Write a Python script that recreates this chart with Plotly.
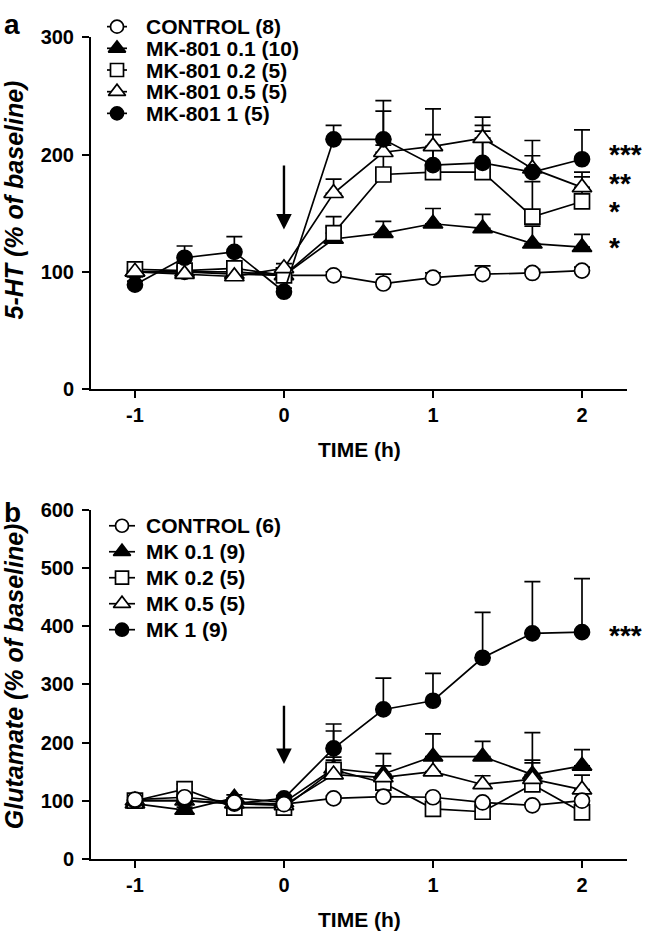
import plotly.graph_objects as go

# ---------------- data ----------------
time_h = [-1.0, -0.667, -0.333, 0.0, 0.333, 0.667, 1.0, 1.333, 1.667, 2.0]

# Panel a: 5-HT (% of baseline), mean and upper SEM
a_control = [100, 100, 100, 97, 97, 90, 95, 98, 99, 101]
a_control_err = [3, 3, 3, 3, 3, 8, 4, 7, 3, 3]
a_mk01 = [100, 100, 98, 97, 128, 133, 141, 137, 124, 121]
a_mk01_err = [4, 4, 4, 4, 10, 10, 13, 12, 15, 11]
a_mk02 = [102, 101, 103, 97, 133, 183, 185, 185, 147, 160]
a_mk02_err = [4, 4, 5, 4, 14, 25, 20, 35, 30, 21]
a_mk05 = [100, 98, 96, 103, 167, 202, 207, 214, 188, 172]
a_mk05_err = [3, 3, 4, 4, 12, 35, 32, 18, 11, 13]
a_mk1 = [89, 112, 117, 83, 213, 213, 191, 193, 185, 196]
a_mk1_err = [3, 10, 13, 3, 12, 33, 26, 32, 27, 25]

# Panel b: Glutamate (% of baseline)
b_control = [102, 106, 97, 94, 104, 107, 106, 97, 92, 100]
b_control_err = [4, 4, 4, 4, 4, 4, 4, 4, 4, 4]
b_mk01 = [95, 84, 105, 97, 155, 146, 176, 176, 145, 160]
b_mk01_err = [5, 5, 5, 5, 15, 35, 39, 26, 25, 28]
b_mk02 = [100, 120, 88, 88, 153, 131, 86, 81, 128, 80]
b_mk02_err = [5, 8, 5, 5, 67, 10, 10, 10, 37, 10]
b_mk05 = [100, 100, 95, 92, 145, 140, 150, 128, 137, 119]
b_mk05_err = [5, 5, 5, 5, 30, 20, 20, 15, 80, 25]
b_mk1 = [100, 100, 95, 104, 190, 257, 272, 346, 388, 390]
b_mk1_err = [5, 5, 5, 5, 42, 54, 47, 78, 89, 92]

a_labels = ["CONTROL (8)", "MK-801 0.1 (10)", "MK-801 0.2 (5)", "MK-801 0.5 (5)", "MK-801 1 (5)"]
b_labels = ["CONTROL (6)", "MK 0.1 (9)", "MK 0.2 (5)", "MK 0.5 (5)", "MK 1 (9)"]

a_stars = ["***", "**", "*", "*"]
b_stars = ["***"]

x_ticks = [-1, 0, 1, 2]
a_yticks = [0, 100, 200, 300]
b_yticks = [0, 100, 200, 300, 400, 500, 600]

# ---------------- page geometry ----------------
W, H = 650, 947
FONT = "Liberation Sans, Arial, sans-serif"

def fx(px):
    return px / W

def fy(py):
    return (H - py) / H

styles = [
    dict(symbol="circle", fill="white", size=15),        # CONTROL
    dict(symbol="triangle-up", fill="black", size=17),   # 0.1
    dict(symbol="square", fill="white", size=15),        # 0.2
    dict(symbol="triangle-up", fill="white", size=17),   # 0.5
    dict(symbol="circle", fill="black", size=15),        # 1
]

fig = go.Figure()

def add_panel(series, errs, order, xa, ya):
    for i in order:
        fig.add_trace(go.Scatter(
            x=time_h, y=series[i], mode="markers",
            marker=dict(size=1, color="rgba(0,0,0,0)"),
            error_y=dict(type="data", symmetric=False, array=errs[i],
                         arrayminus=[0] * len(errs[i]), color="black",
                         thickness=1.7, width=8),
            xaxis=xa, yaxis=ya, showlegend=False, hoverinfo="skip"))
    for i in order:
        s = styles[i]
        fig.add_trace(go.Scatter(
            x=time_h, y=series[i], mode="lines+markers",
            line=dict(color="black", width=1.7),
            marker=dict(symbol=s["symbol"], size=s["size"], color=s["fill"],
                        line=dict(color="black", width=1.7)),
            xaxis=xa, yaxis=ya, showlegend=False, cliponaxis=False))

add_panel([a_control, a_mk01, a_mk02, a_mk05, a_mk1],
          [a_control_err, a_mk01_err, a_mk02_err, a_mk05_err, a_mk1_err],
          [0, 1, 2, 3, 4], "x", "y")
add_panel([b_control, b_mk01, b_mk02, b_mk05, b_mk1],
          [b_control_err, b_mk01_err, b_mk02_err, b_mk05_err, b_mk1_err],
          [1, 2, 3, 4, 0], "x2", "y2")

# ---------------- legends on a page-pixel overlay ----------------
def add_legend(labels, x_sym, half_len, y0, dy, x_text, font_size):
    anns = []
    for i, lab in enumerate(labels):
        s = styles[i]
        yy = y0 + i * dy
        fig.add_trace(go.Scatter(
            x=[x_sym - half_len, x_sym + half_len], y=[yy, yy], mode="lines",
            line=dict(color="black", width=1.7), xaxis="x3", yaxis="y3",
            showlegend=False, hoverinfo="skip", cliponaxis=False))
        fig.add_trace(go.Scatter(
            x=[x_sym], y=[yy], mode="markers",
            marker=dict(symbol=s["symbol"], size=s["size"] - 2, color=s["fill"],
                        line=dict(color="black", width=1.7)),
            xaxis="x3", yaxis="y3", showlegend=False, hoverinfo="skip",
            cliponaxis=False))
        anns.append(dict(x=x_text, y=yy, xref="x3", yref="y3", text="<b>%s</b>" % lab,
                         showarrow=False, xanchor="left", yanchor="middle",
                         font=dict(family=FONT, size=font_size, color="black")))
    return anns

annotations = []
annotations += add_legend(a_labels, 117, 10, 16, 22.2, 144, 21)
annotations += add_legend(b_labels, 122, 13, 527, 26.6, 144, 21)

STAR_SIZE = 28
for lab, yy in zip(a_stars, [144, 174, 202, 239]):
    annotations.append(dict(x=607, y=yy + 3, xref="x3", yref="y3", text="<b>%s</b>" % lab,
                            showarrow=False, xanchor="left", yanchor="middle",
                            font=dict(family=FONT, size=STAR_SIZE, color="black")))
for lab, yy in zip(b_stars, [636]):
    annotations.append(dict(x=607, y=yy + 3, xref="x3", yref="y3", text="<b>%s</b>" % lab,
                            showarrow=False, xanchor="left", yanchor="middle",
                            font=dict(family=FONT, size=STAR_SIZE, color="black")))

# panel letters
annotations.append(dict(x=12, y=14, xref="x3", yref="y3", text="<b>a</b>", showarrow=False,
                        font=dict(family=FONT, size=28, color="black")))
annotations.append(dict(x=12, y=513, xref="x3", yref="y3", text="<b>b</b>", showarrow=False,
                        font=dict(family=FONT, size=28, color="black")))

# axis titles
annotations.append(dict(x=14, y=194, xref="x3", yref="y3", text="<b><i>5-HT (% of baseline)</i></b>",
                        showarrow=False, textangle=-90,
                        font=dict(family=FONT, size=25, color="black")))
annotations.append(dict(x=14, y=681, xref="x3", yref="y3", text="<b><i>Glutamate (% of baseline)</i></b>",
                        showarrow=False, textangle=-90,
                        font=dict(family=FONT, size=25, color="black")))
for yy in [449, 930]:
    annotations.append(dict(x=359, y=yy, xref="x3", yref="y3", text="<b>TIME (h)</b>",
                            showarrow=False, font=dict(family=FONT, size=21, color="black")))

# injection arrows (at time 0)
arrow_a = (0, 192, 136)
arrow_b = (0, 266, 163)
annotations.append(dict(x=arrow_a[0], y=arrow_a[2], ax=arrow_a[0], ay=arrow_a[1], xref="x", yref="y",
                        axref="x", ayref="y", text="", showarrow=True, arrowhead=2,
                        arrowsize=1.3, arrowwidth=2.4, arrowcolor="black"))
annotations.append(dict(x=arrow_b[0], y=arrow_b[2], ax=arrow_b[0], ay=arrow_b[1], xref="x2", yref="y2",
                        axref="x2", ayref="y2", text="", showarrow=True, arrowhead=2,
                        arrowsize=1.3, arrowwidth=2.4, arrowcolor="black"))

axis_common = dict(showline=True, linecolor="black", linewidth=2, ticks="outside", ticklen=7,
                   tickwidth=2, tickcolor="black", showgrid=False, zeroline=False,
                   tickfont=dict(family=FONT, size=20, color="black", weight="bold"))
x_dom = [fx(91), fx(627)]
x_rng = [-1.295, 2.302]

fig.update_layout(
    width=W, height=H, autosize=False,
    margin=dict(l=0, r=0, t=0, b=0, pad=0),
    paper_bgcolor="white", plot_bgcolor="rgba(0,0,0,0)",
    showlegend=False,
    xaxis=dict(domain=x_dom, range=x_rng, tickvals=x_ticks, ticktext=[str(v) for v in x_ticks],
               anchor="y", **axis_common),
    yaxis=dict(domain=[fy(387), fy(27)], range=[0, 300], tickvals=a_yticks,
               anchor="x", ticklabelstandoff=4, **axis_common),
    xaxis2=dict(domain=x_dom, range=x_rng, tickvals=x_ticks, ticktext=[str(v) for v in x_ticks],
                anchor="y2", **axis_common),
    yaxis2=dict(domain=[fy(868), fy(511)], range=[0, 600], tickvals=b_yticks,
                anchor="x2", ticklabelstandoff=4, **axis_common),
    xaxis3=dict(domain=[0, 1], range=[0, W], visible=False, anchor="y3"),
    yaxis3=dict(domain=[0, 1], range=[H, 0], visible=False, anchor="x3"),
    annotations=annotations,
)

fig.write_html("out.html", config={"displayModeBar": False, "staticPlot": True},
               post_script="document.body.style.margin='0';document.body.style.overflow='hidden';")
